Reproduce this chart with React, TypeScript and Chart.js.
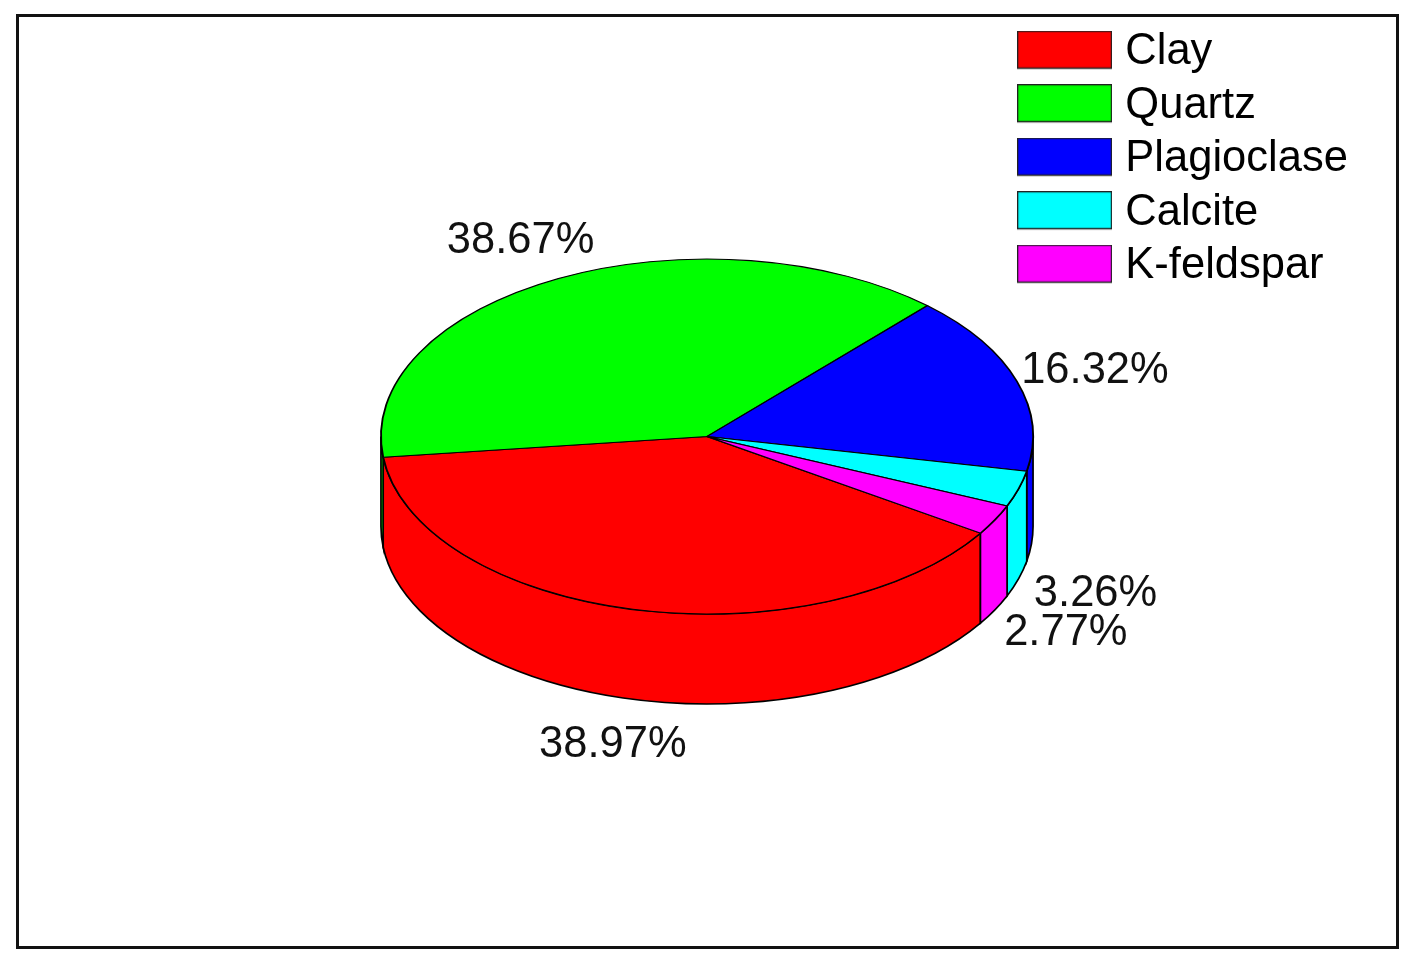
import React, { useEffect, useRef } from "react";
import Chart from "chart.js/auto";

const categories = ["Clay", "Quartz", "Plagioclase", "Calcite", "K-feldspar"];
const shares = [38.97, 38.67, 16.32, 3.26, 2.77];
const colors = ["#ff0000", "#00ff00", "#0000ff", "#00ffff", "#ff00ff"];

const FONT = '"Liberation Sans", Arial, sans-serif';
const squash = 178 / 327;
const depth = 90;
const labelNudges = [
  [-20, 46],
  [-38, -37],
  [78, -10],
  [77, 15],
  [71, 23],
];

function swatch(color: string) {
  const c = document.createElement("canvas");
  c.width = 95;
  c.height = 43;
  const g = c.getContext("2d")!;
  g.fillStyle = color;
  g.fillRect(0.5, 0.5, 94, 37);
  g.strokeStyle = "#222";
  g.lineWidth = 1.5;
  g.strokeRect(0.5, 0.5, 94, 37);
  return c;
}

const piePlugin = {
  id: "pie3d",
  beforeDraw(chart: any) {
    const { ctx, legend } = chart;
    ctx.save();
    ctx.fillStyle = "#fff";
    ctx.fillRect(0, 0, chart.width, chart.height);
    ctx.strokeStyle = "#111";
    ctx.lineWidth = 3;
    ctx.strokeRect(17.5, 15.5, 1380, 932);
    ctx.restore();
    legend.left = 1015.6;
    legend.right = 1421;
    legend.top = 20.4;
    legend.bottom = 330;
  },
  beforeDatasetsDraw(chart: any) {
    const { ctx } = chart;
    const arcs = chart.getDatasetMeta(0).data;
    ctx.save();
    ctx.lineWidth = 1.7;
    ctx.strokeStyle = "#000";
    arcs.forEach((arc: any, i: number) => {
      const { x, y, outerRadius: r, startAngle, endAngle } = arc;
      const ry = r * squash;
      for (const turn of [-2 * Math.PI, 0, 2 * Math.PI]) {
        const a0 = Math.max(startAngle + turn, 0);
        const a1 = Math.min(endAngle + turn, Math.PI);
        if (a1 <= a0) continue;
        ctx.beginPath();
        ctx.ellipse(x, y, r, ry, 0, a0, a1);
        ctx.lineTo(x + r * Math.cos(a1), y + ry * Math.sin(a1) + depth);
        ctx.ellipse(x, y + depth, r, ry, 0, a1, a0, true);
        ctx.closePath();
        ctx.fillStyle = colors[i];
        ctx.fill();
        ctx.stroke();
      }
    });
    ctx.restore();
    const { x, y } = arcs[0];
    ctx.save();
    ctx.translate(x, y);
    ctx.scale(1, squash);
    ctx.translate(-x, -y);
  },
  afterDatasetsDraw(chart: any) {
    chart.ctx.restore();
  },
  afterDraw(chart: any) {
    const { ctx } = chart;
    const arcs = chart.getDatasetMeta(0).data;
    ctx.save();
    ctx.fillStyle = "#111";
    ctx.font = `43.5px ${FONT}`;
    ctx.textAlign = "center";
    ctx.textBaseline = "middle";
    arcs.forEach((arc: any, i: number) => {
      const mid = (arc.startAngle + arc.endAngle) / 2;
      const s = Math.sin(mid);
      const px = arc.x + arc.outerRadius * Math.cos(mid) + labelNudges[i][0];
      const py = arc.y + arc.outerRadius * squash * s + (s > 0 ? depth : 0) + labelNudges[i][1];
      ctx.fillText(`${shares[i].toFixed(2)}%`, px, py);
    });
    ctx.restore();
  },
};

export default function App() {
  const ref = useRef<HTMLCanvasElement>(null);
  useEffect(() => {
    const chart = new Chart(ref.current!, {
      type: "pie",
      data: {
        labels: categories,
        datasets: [
          {
            data: shares,
            backgroundColor: colors,
            borderColor: "#000",
            borderWidth: 1.9,
            clip: false,
          } as any,
        ],
      },
      options: {
        animation: false,
        responsive: false,
        events: [],
        rotation: 123,
        layout: { padding: { left: 380, right: 387, top: 109.5, bottom: 207.5 } },
        plugins: {
          tooltip: { enabled: false },
          legend: {
            position: "chartArea" as any,
            align: "start",
            labels: {
              usePointStyle: true,
              pointStyleWidth: 78,
              boxHeight: 43.5,
              padding: 10,
              color: "#111",
              font: { family: FONT, size: 43.5 },
              generateLabels: () =>
                categories.map((text, i) => ({
                  text,
                  pointStyle: swatch(colors[i]),
                  fillStyle: colors[i],
                  strokeStyle: "#222",
                  lineWidth: 1,
                  index: i,
                  hidden: false,
                })) as any,
            },
          },
        },
      },
      plugins: [piePlugin as any],
    });
    return () => chart.destroy();
  }, []);
  return (
    <div style={{ position: "absolute", left: 0, top: 0, width: 1421, height: 971 }}>
      <canvas ref={ref} width={1421} height={971} style={{ display: "block" }} />
    </div>
  );
}
